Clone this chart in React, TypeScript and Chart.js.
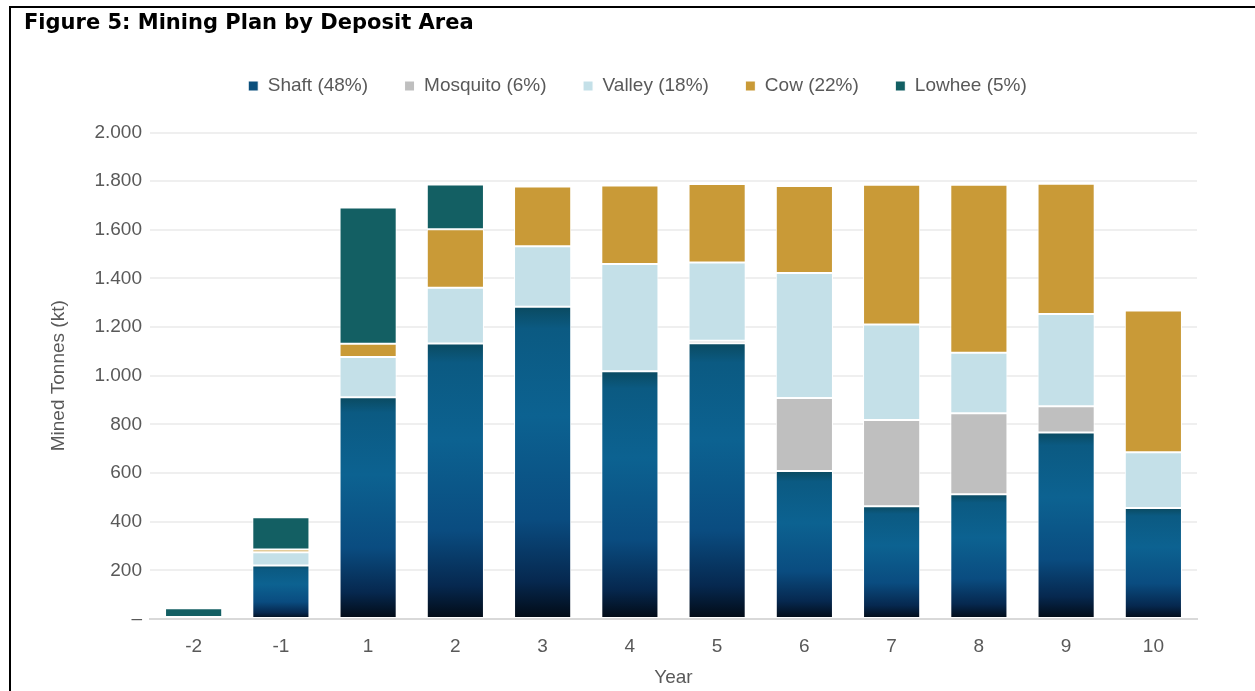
import React, { useEffect, useRef } from "react";
import { Chart, registerables } from "chart.js";

Chart.register(...registerables);

const years = ["-2", "-1", "1", "2", "3", "4", "5", "6", "7", "8", "9", "10"];
const shaft = [0, 220, 912, 1133, 1284, 1019, 1134, 608, 464, 513, 767, 456];
const mosquito = [0, 0, 0, 0, 0, 0, 10, 301, 354, 333, 108, 0];
const valley = [8, 54, 165, 229, 248, 440, 322, 513, 393, 249, 379, 230];
const cow = [0, 12, 55, 240, 246, 323, 322, 358, 574, 690, 535, 582];
const lowhee = [36, 132, 560, 184, 0, 0, 0, 0, 0, 0, 0, 0];
const seriesLabels = ["Shaft (48%)", "Mosquito (6%)", "Valley (18%)", "Cow (22%)", "Lowhee (5%)"];
const yTicks = [0, 200, 400, 600, 800, 1000, 1200, 1400, 1600, 1800, 2000];

const TEXT = "#595959";
const FONT = "'Liberation Sans', Arial, sans-serif";

function fmt(v: number): string {
  if (v === 0) return "–";
  if (v >= 1000) return `${Math.floor(v / 1000)}.${String(v % 1000).padStart(3, "0")}`;
  return String(v);
}

function shaftFill(ctx: any) {
  if (ctx.type !== "data") return "#0b3f6b";
  const chart = ctx.chart;
  const y = chart.scales.y;
  if (!chart.chartArea || !y) return "#0b4f7c";
  const top = y.getPixelForValue(ctx.raw);
  const bottom = y.getPixelForValue(0);
  if (!(bottom > top)) return "#0b4f7c";
  const g = chart.ctx.createLinearGradient(0, top, 0, bottom);
  g.addColorStop(0, "#0a4a60");
  g.addColorStop(0.07, "#0b5a82");
  g.addColorStop(0.35, "#0c6291");
  g.addColorStop(0.68, "#0a4c80");
  g.addColorStop(0.88, "#06284f");
  g.addColorStop(1, "#020a14");
  return g;
}

const legendShift = {
  id: "legendShift",
  afterLayout(chart: any) {
    const l = chart.legend;
    if (l) {
      l.left += 27;
      l.right += 27;
    }
  },
};

export default function App() {
  const ref = useRef<HTMLCanvasElement>(null);
  useEffect(() => {
    if (!ref.current) return;
    const common = { borderColor: "#ffffff", borderWidth: 1, borderSkipped: false as const };
    const chart = new Chart(ref.current, {
      type: "bar",
      data: {
        labels: years,
        datasets: [
          { label: seriesLabels[0], data: shaft, backgroundColor: shaftFill as any, ...common },
          { label: seriesLabels[1], data: mosquito, backgroundColor: "#bfbfbf", ...common },
          { label: seriesLabels[2], data: valley, backgroundColor: "#c4e0e8", ...common },
          { label: seriesLabels[3], data: cow, backgroundColor: "#c99a37", ...common },
          { label: seriesLabels[4], data: lowhee, backgroundColor: "#135f63", ...common },
        ],
      },
      options: {
        animation: false,
        responsive: false,
        maintainAspectRatio: false,
        layout: { padding: { left: 24, right: 58, top: 0, bottom: 0 } },
        datasets: { bar: { barPercentage: 0.655, categoryPercentage: 1 } },
        plugins: {
          tooltip: { enabled: false },
          title: {
            display: true,
            text: "Figure 5: Mining Plan by Deposit Area",
            align: "start",
            color: "#000000",
            font: { family: "'DejaVu Sans', Verdana, sans-serif", size: 21, weight: "bold" },
            padding: { top: 11.4, bottom: 3.4 },
          },
          legend: {
            display: true,
            position: "top",
            labels: {
              color: TEXT,
              font: { family: FONT, size: 19 },
              boxWidth: 10,
              boxHeight: 10,
              padding: 36.5,
            },
          },
          subtitle: {
            display: true,
            text: "",
            weight: 500,
            font: { size: 10 },
            padding: { top: 8, bottom: 7 },
          } as any,
        },
        scales: {
          x: {
            stacked: true,
            grid: { display: false, drawTicks: false },
            border: { display: true, color: "#d9d9d9", width: 2 },
            ticks: { color: TEXT, font: { family: FONT, size: 19 }, padding: 16 },
            title: {
              display: true,
              text: "Year",
              color: TEXT,
              font: { family: FONT, size: 19 },
              padding: { top: 4, bottom: 2 },
            },
            afterFit: (s: any) => {
              s.height = 72;
            },
          },
          y: {
            stacked: true,
            min: 0,
            max: 2000,
            grid: { color: "#efefef", lineWidth: 2, drawTicks: false },
            border: { display: false },
            afterBuildTicks: (s: any) => {
              s.ticks = yTicks.map((v) => ({ value: v }));
            },
            ticks: {
              color: TEXT,
              font: { family: FONT, size: 19 },
              padding: 8,
              callback: (v: any) => fmt(Number(v)),
            },
            title: {
              display: true,
              text: "Mined Tonnes (kt)",
              color: TEXT,
              font: { family: FONT, size: 19 },
              padding: { top: 23, bottom: 0 },
            },
            afterFit: (s: any) => {
              s.width = 126;
            },
          },
        },
      },
      plugins: [legendShift],
    });
    return () => chart.destroy();
  }, []);

  return (
    <div
      style={{
        position: "fixed",
        left: 0,
        top: 0,
        width: 1255,
        height: 691,
        overflow: "hidden",
        background: "#ffffff",
      }}
    >
      <canvas ref={ref} width={1255} height={691} style={{ position: "absolute", left: 0, top: 0 }} />
      <div
        style={{
          position: "absolute",
          left: 9,
          top: 6,
          width: 1400,
          height: 900,
          borderLeft: "2px solid #000",
          borderTop: "2px solid #000",
          pointerEvents: "none",
        }}
      />
    </div>
  );
}
